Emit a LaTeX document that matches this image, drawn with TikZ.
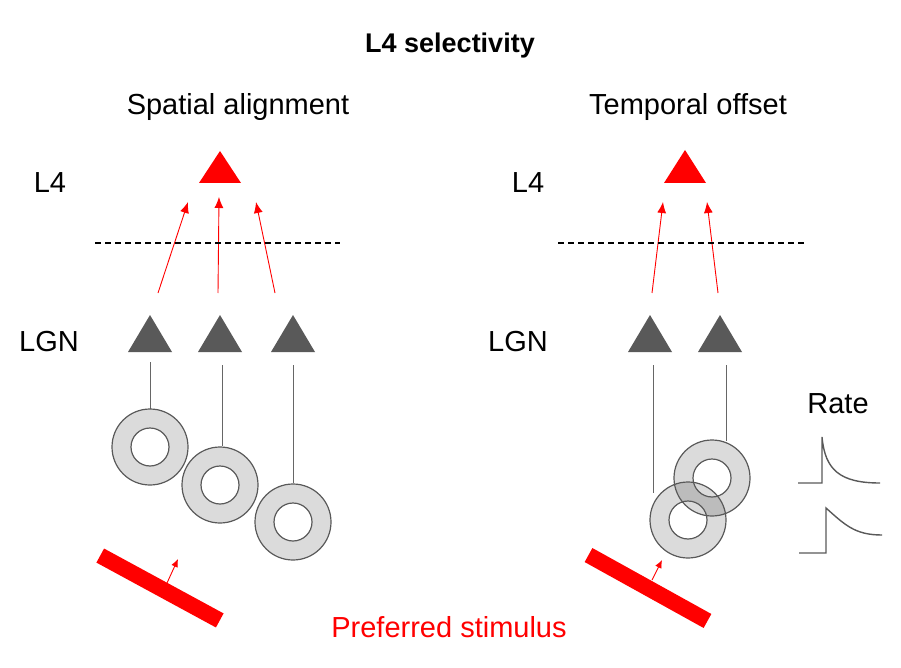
\documentclass[tikz,border=0pt]{standalone}
\usepackage{fontspec}
\setmainfont{Liberation Sans}
\usetikzlibrary{arrows.meta}
\begin{document}
\begin{tikzpicture}[x=1pt,y=-1pt,
  lbl/.style={inner sep=0pt,font=\fontsize{29}{32}\selectfont},
  red4/.style={fill=red,draw=none},
  lgn/.style={fill=black!65,draw=none},
  feed/.style={red,line width=0.9pt,-{Latex[length=11pt,width=9pt]}},
  dashln/.style={black,line width=1.2pt,dash pattern=on 6pt off 4pt},
  wire/.style={black!60,line width=0.8pt},
  ring/.style={draw=none,fill=black,fill opacity=0.14,even odd rule},
  bar/.style={draw=none,fill=red},
  barr/.style={red,line width=0.9pt,-{Latex[length=8pt,width=7pt]}},
  trace/.style={black!65,line width=1.4pt}]
\useasboundingbox (0,0) rectangle (901,668);
\node[lbl,font=\bfseries\fontsize{27}{30}\selectfont] (title) at (450,46) {L4 selectivity};
\node[lbl] (ts) at (238,107) {Spatial alignment};
\node[lbl] (tt) at (688,107) {Temporal offset};
\node[lbl] (l4a) at (50,183) {L4};
\node[lbl] (l4b) at (528,183) {L4};
\node[lbl] (lgna) at (49,342) {LGN};
\node[lbl] (lgnb) at (518,342) {LGN};
\node[lbl] (rate) at (838,404) {Rate};
\node[lbl,red] (pref) at (449,627) {Preferred stimulus};
% L4 triangles
\fill[red4] (220,151) -- (241,183) -- (199,183) -- cycle;
\fill[red4] (685,150) -- (706,183) -- (664,183) -- cycle;
% feedforward arrows
\coordinate (a1) at (158,293); \coordinate (b1) at (188,202);
\coordinate (a2) at (218,293); \coordinate (b2) at (219,197);
\coordinate (a3) at (275,293); \coordinate (b3) at (256,202);
\coordinate (a4) at (652,293); \coordinate (b4) at (663,202);
\coordinate (a5) at (718,293); \coordinate (b5) at (707,202);
\foreach \i in {1,...,5}{\draw[feed] (a\i) -- (b\i);}
\coordinate (d1) at (95,243); \coordinate (d2) at (340,243);
\coordinate (d3) at (558,243); \coordinate (d4) at (805,243);
\draw[dashln] (d1) -- (d2); \draw[dashln] (d3) -- (d4);
% LGN triangles
\foreach \x in {150,220,293,650,720}{\fill[lgn] (\x,315) -- (\x+22,352) -- (\x-22,352) -- cycle;}
% wires
\coordinate (w1) at (150,362); \coordinate (r1) at (150,409);
\coordinate (w2) at (222,365); \coordinate (r2) at (222,446);
\coordinate (w3) at (293,365); \coordinate (r3) at (293,483);
\coordinate (w4) at (653,365); \coordinate (r4) at (653,493);
\coordinate (w5) at (726,365); \coordinate (r5) at (726,441);
\foreach \i in {1,...,5}{\draw[wire] (w\i) -- (r\i);}
% rings
\foreach \x/\y in {150/447,220/485,293/522,712/478,688/520}{
  \path[ring] (\x,\y) circle (38) (\x,\y) circle (19);}
\foreach \x/\y in {150/447,220/485,293/522,712/478,688/520}{
  \draw[black!65,line width=1.2pt] (\x,\y) circle (38) (\x,\y) circle (19);}
% bars
\fill[bar,rotate around={-28.5:(160,588)}] (92,580) rectangle (228,596);
\coordinate (s1) at (167,583); \coordinate (s2) at (178,559);
\draw[barr] (s1) -- (s2);
\fill[bar,rotate around={-29:(648,588)}] (580,580) rectangle (716,596);
\coordinate (s3) at (652,580); \coordinate (s4) at (662,560);
\draw[barr] (s3) -- (s4);
% rate traces
\draw[trace] (798,483) -- (822,483) -- (822,437) .. controls (825,470) and (840,483) .. (880,483);
\draw[trace] (799,553) -- (826,553) -- (826,508) .. controls (845,525) and (855,535) .. (882,535);
\end{tikzpicture}
\end{document}
